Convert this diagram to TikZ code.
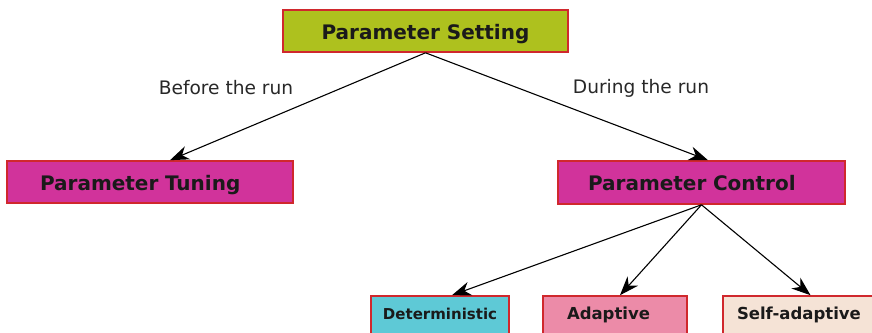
\documentclass[tikz,border=0pt]{standalone}
\usepackage{fontspec}
\setmainfont{DejaVu Sans}
\usetikzlibrary{arrows.meta}
\definecolor{psfill}{RGB}{174,193,30}
\definecolor{magfill}{RGB}{209,51,155}
\definecolor{cyanfill}{RGB}{94,201,214}
\definecolor{pinkfill}{RGB}{236,139,168}
\definecolor{beigefill}{RGB}{245,227,214}
\definecolor{boxborder}{RGB}{208,40,45}
\definecolor{txt}{RGB}{26,26,26}
\definecolor{lbl}{RGB}{40,40,40}
\tikzset{
  box/.style={draw=boxborder, line width=1.6pt, text=txt, font=\bfseries\fontsize{20}{24}\selectfont, minimum height=42pt, inner ysep=0pt, text height=20pt, text depth=3pt},
  smallbox/.style={draw=boxborder, line width=1.6pt, text=txt, font=\bfseries\fontsize{16.5}{20}\selectfont, minimum height=40pt, inner ysep=0pt, text height=12pt, text depth=6pt},
  edgelabel/.style={text=lbl, font=\fontsize{18.6}{22}\selectfont},
  conn/.style={line width=1.1pt, -{Stealth[length=19pt,width=14pt,inset=6pt]}}
}
\begin{document}
\begin{tikzpicture}[x=1pt,y=1pt]
\clip (0,0) rectangle (872,332);
\fill[white] (0,0) rectangle (872,332);
\node[box, fill=psfill, minimum width=285pt] (PS) at (425.5,301) {Parameter Setting};
\node[box, fill=magfill, inner xsep=33pt, text width=220pt, align=left] (PT) at (150,150) {Parameter Tuning};
\node[box, fill=magfill, minimum height=43pt, inner xsep=30pt, text width=227pt, align=left] (PC) at (701.5,149.5) {Parameter Control};
\node[smallbox, fill=cyanfill, minimum width=138pt, font=\bfseries\fontsize{15}{18}\selectfont] (DT) at (440,16) {Deterministic};
\node[smallbox, fill=pinkfill, inner xsep=24pt, text width=96pt, align=left] (AD) at (615,16) {Adaptive};
\node[smallbox, fill=beigefill, inner xsep=14pt, text width=127pt, align=left] (SA) at (800.5,16) {Self-adaptive};
\node[edgelabel] (LB) at (226,244) {Before the run};
\node[edgelabel] (LD) at (641,244) {During the run};
\draw[conn] (PS.south) -- ([xshift=20pt]PT.north);
\draw[conn] (PS.south) -- ([xshift=6.5pt]PC.north);
\draw[conn] (PC.south) -- ([xshift=12pt]DT.north);
\draw[conn] (PC.south) -- ([xshift=5pt]AD.north);
\draw[conn] (PC.south) -- ([xshift=10pt]SA.north);
\end{tikzpicture}
\end{document}
